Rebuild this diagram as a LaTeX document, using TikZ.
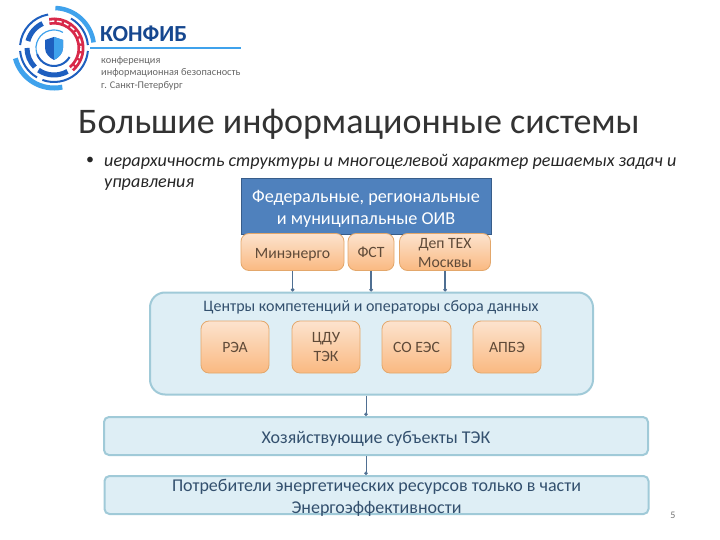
\documentclass[tikz,border=0pt]{standalone}
\usepackage{fontspec}
\setmainfont{Carlito}
\usetikzlibrary{arrows.meta}
\definecolor{oivblue}{HTML}{4F81BD}
\definecolor{oivedge}{HTML}{385D8A}
\definecolor{ortop}{HTML}{FCE3CE}
\definecolor{orbot}{HTML}{FAB981}
\definecolor{oredge}{HTML}{E3A76B}
\definecolor{ortxt}{HTML}{5F4A38}
\definecolor{ltfill}{HTML}{DEEEF5}
\definecolor{ltedge}{HTML}{A0CAD8}
\definecolor{bluetxt}{HTML}{33506E}
\definecolor{linkc}{HTML}{4F6F92}
\definecolor{logoblue}{HTML}{1E5FBF}
\definecolor{logosky}{HTML}{3FA2EC}
\definecolor{logored}{HTML}{D8294A}
\tikzset{
  orbox/.style={draw=oredge,line width=0.8pt,rounded corners=8pt,top color=ortop,bottom color=orbot,align=center,text=ortxt,font=\fontsize{15.7}{19}\selectfont,inner sep=0pt},
  ltbox/.style={draw=ltedge,line width=2pt,fill=ltfill,align=center,text=bluetxt,inner sep=0pt},
  link/.style={draw=linkc,line width=1.2pt,-{Circle[length=3.5pt]}},
  thinlink/.style={draw=linkc,line width=0.6pt,-{Circle[length=3.5pt]}}
}
\newcommand{\lift}[1]{\rule{0pt}{#1pt}}
\begin{document}
\begin{tikzpicture}[x=1pt,y=-1pt]
\useasboundingbox (0,0) rectangle (720,540);
\fill[white] (0,0) rectangle (720,540);
% logo
\foreach \c/\w/\r/\a/\b in {
 logosky/4.5/40/88/8,
 logosky/5/40/195/282,
 logoblue/2/34/100/175,
 logoblue/2/34/185/240,
 logoblue/2/34/250/355,
 logoblue/2/34/5/60,
 logored/7/27/100/-50,
 logoblue/5/27/115/165,
 logoblue/5/27/180/225,
 logoblue/5/27/235/300,
 logosky/1.2/18/60/200,
 logoblue/2/18/200/330}{
  \draw[\c,line width=\w pt] ({54+\r*cos(\a)},{48-\r*sin(\a)}) arc[start angle=-\a,end angle=-\b,radius=\r];
}
\draw[white,line width=1.4pt,dash pattern=on 5pt off 2.5pt] ({54+27*cos(100)},{48-27*sin(100)}) arc[start angle=-100,end angle=50,radius=27];
\fill[logoblue] (54,37) -- (63,40) -- (63,48) .. controls (63,54) and (58,58) .. (54,60) .. controls (50,58) and (45,54) .. (45,48) -- (45,40) -- cycle;
\fill[logosky] (54,37) -- (63,40) -- (63,48) .. controls (63,54) and (58,58) .. (54,60) -- cycle;
\node[anchor=west,inner sep=0pt,text=logoblue!75!black,font=\fontsize{23}{23}\selectfont\bfseries] (brand) at (100,34) {КОНФИБ};
\coordinate (ruleA) at (90,48);
\coordinate (ruleB) at (241,48);
\draw[logosky,line width=1.5pt] (ruleA) -- (ruleB);
\node[anchor=west,inner sep=0pt,text=black!60,font=\fontsize{10.3}{12.5}\selectfont,align=left] (sub) at (101,73) {конференция\\информационная безопасность\\г. Санкт-Петербург};
% title
\node[anchor=west,inner sep=0pt,text=black!80,font=\fontsize{36}{36}\selectfont] (title) at (78,124) {Большие информационные системы};
\node[anchor=west,inner sep=0pt,text=black!85,font=\fontsize{16}{16}\selectfont] (bullet) at (86,161) {•};
\node[anchor=north west,inner sep=0pt,text=black!85,font=\fontsize{18.1}{21}\selectfont\itshape,align=left] (body) at (104,154) {иерархичность структуры и многоцелевой характер решаемых задач и\\управления};
% boxes
\node[draw=oivedge,line width=1pt,fill=oivblue,text=white,align=center,minimum width=250pt,minimum height=55pt,inner sep=0pt,font=\fontsize{18.2}{21.5}\selectfont] (oiv) at (366,206.5) {\lift{17}Федеральные, региональные\\и муниципальные ОИВ};
\node[orbox,minimum width=103pt,minimum height=37pt] (min) at (292.5,252) {\lift{15}Минэнерго};
\node[orbox,minimum width=46pt,minimum height=37pt] (fst) at (371,252) {\lift{12}ФСТ};
\node[orbox,minimum width=91pt,minimum height=37pt] (dep) at (445,252) {\lift{13}Деп ТЕХ\\Москвы};
\node[ltbox,rounded corners=15pt,minimum width=443pt,minimum height=102pt] (cent) at (371.5,343.5) {};
\node[anchor=center,inner sep=0pt,text=bluetxt,font=\fontsize{16}{16}\selectfont] (centt) at (371,307.5) {Центры компетенций и операторы сбора данных};
\node[orbox,minimum width=68pt,minimum height=52pt] (rea) at (235,347) {РЭА};
\node[orbox,minimum width=68pt,minimum height=52pt] (cdu) at (326,347) {ЦДУ\\ТЭК};
\node[orbox,minimum width=69pt,minimum height=52pt] (so) at (416.5,347) {СО ЕЭС};
\node[orbox,minimum width=68pt,minimum height=52pt] (apbe) at (507,347) {АПБЭ};
\node[ltbox,rounded corners=5pt,minimum width=544pt,minimum height=38pt,font=\fontsize{18}{18}\selectfont] (hoz) at (376,436) {\lift{17}Хозяйствующие субъекты ТЭК};
\node[ltbox,rounded corners=5pt,minimum width=544pt,minimum height=38pt,inner ysep=-4pt,font=\fontsize{18}{22}\selectfont] (cons) at (376.5,495) {\lift{17}Потребители энергетических ресурсов только в части\\Энергоэффективности};
\draw[link] (min.south) -- (min.south |- cent.north);
\draw[link] (fst.south) -- (fst.south |- cent.north);
\draw[link] (dep.south) -- (dep.south |- cent.north);
\coordinate (mid) at (366,0);
\draw[thinlink] (mid |- cent.south) -- (mid |- hoz.north);
\draw[thinlink] (mid |- hoz.south) -- (mid |- cons.north);
\node[inner sep=0pt,text=black!55,font=\fontsize{10}{10}\selectfont] (num) at (673,515) {5};
\end{tikzpicture}
\end{document}
